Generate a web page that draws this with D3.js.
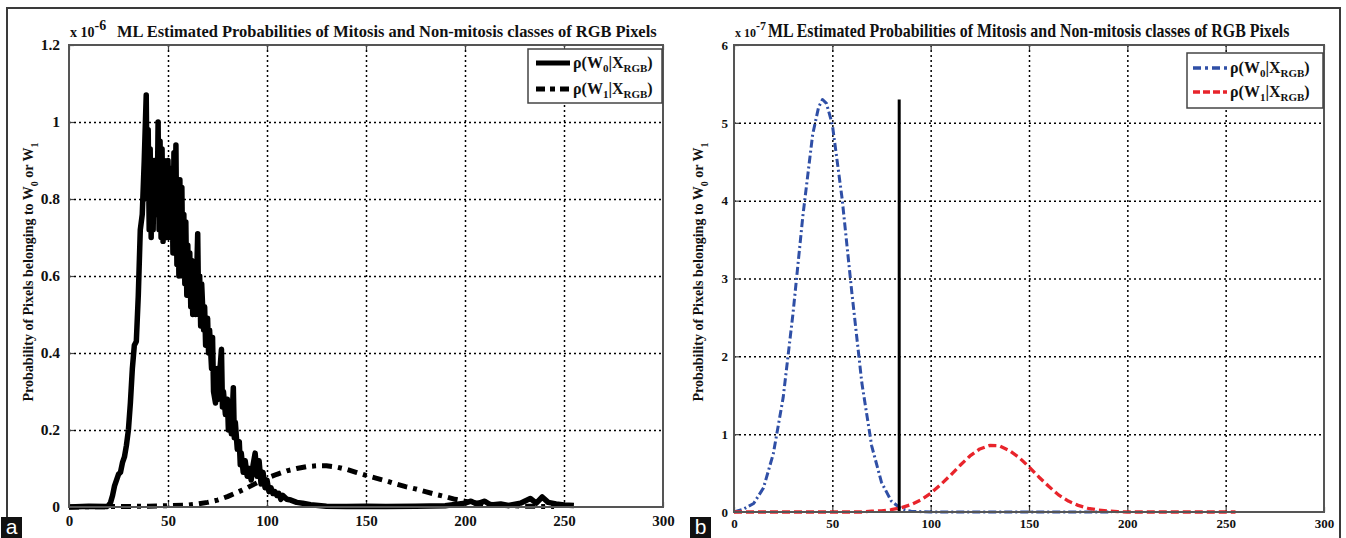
<!DOCTYPE html>
<html>
<head>
<meta charset="utf-8">
<script src="https://cdn.jsdelivr.net/npm/d3@7"></script>
<style>
  body { margin: 0; background: #fff; }
  svg { display: block; font-family: "Liberation Serif", "DejaVu Serif", serif; font-weight: bold; }
</style>
</head>
<body>
<svg class="chart"></svg>
<script>
const width = 1346;
const height = 538;

// data (probabilities, left in units of 1e-6, right in units of 1e-7)
const xTicks = [0, 50, 100, 150, 200, 250, 300];
const leftYTicks = [0, 0.2, 0.4, 0.6, 0.8, 1, 1.2];
const rightYTicks = [0, 1, 2, 3, 4, 5, 6];
const titleText = 'ML Estimated Probabilities of Mitosis and Non-mitosis classes of RGB Pixels';

// panel a, class W0 (noisy histogram estimate)
const leftW0 = [
  [0, 0], [10, 0.002], [19, 0.001], [20, 0.004], [21, 0.012], [22, 0.03], [23, 0.055], [24, 0.07],
  [25, 0.085], [26, 0.09], [27, 0.115], [28, 0.13], [29, 0.16], [30, 0.2], [31, 0.27], [32, 0.36],
  [33, 0.42], [34, 0.43], [35, 0.55], [36, 0.72], [37, 0.76], [38, 0.9], [39, 1.07], [39.5, 0.8],
  [40, 0.98], [40.5, 0.72], [41, 0.93], [41.5, 0.7], [42, 0.88], [42.5, 0.72], [43, 0.9], [43.5, 0.78],
  [44, 0.86], [44.5, 0.76], [45, 1.0], [45.5, 0.72], [46, 0.95], [46.5, 0.7], [47, 0.93], [47.5, 0.69],
  [48, 0.9], [48.5, 0.72], [49, 0.86], [49.5, 0.7], [50, 0.9], [50.5, 0.74], [51, 0.88], [51.5, 0.7],
  [52, 0.86], [52.5, 0.66], [53, 0.92], [53.5, 0.68], [54, 0.94], [54.5, 0.63], [55, 0.82], [55.5, 0.6],
  [56, 0.85], [56.5, 0.62], [57, 0.83], [57.5, 0.6], [58, 0.76], [58.5, 0.58], [59, 0.74], [59.5, 0.55],
  [60, 0.68], [60.5, 0.55], [61, 0.66], [61.5, 0.52], [62, 0.64], [62.5, 0.5], [63, 0.62], [64, 0.5],
  [65, 0.71], [65.5, 0.5], [66, 0.6], [66.5, 0.47], [67, 0.58], [68, 0.46], [68.5, 0.52], [69, 0.42],
  [70, 0.49], [70.5, 0.4], [71, 0.46], [72, 0.36], [72.5, 0.44], [73, 0.3], [74, 0.27], [75, 0.36],
  [75.5, 0.28], [76, 0.34], [77, 0.41], [77.5, 0.26], [78, 0.3], [79, 0.24], [80, 0.28], [80.5, 0.2],
  [81, 0.27], [82, 0.19], [83, 0.31], [83.5, 0.18], [84, 0.22], [85, 0.15], [86, 0.17], [86.5, 0.11],
  [87, 0.14], [88, 0.09], [89, 0.12], [90, 0.08], [91, 0.1], [92, 0.07], [93, 0.11], [94, 0.14],
  [95, 0.08], [96, 0.12], [97, 0.06], [98, 0.09], [99, 0.05], [100, 0.07], [101, 0.04], [102, 0.05],
  [103, 0.035], [104, 0.04], [105, 0.03], [106, 0.035], [107, 0.02], [108, 0.03], [110, 0.02],
  [112, 0.018], [115, 0.012], [118, 0.01], [122, 0.006], [126, 0.004], [130, 0.002], [140, 0.001],
  [150, 0.002], [160, 0.001], [175, 0.002], [190, 0.003], [200, 0.01], [203, 0.015], [206, 0.008],
  [210, 0.015], [213, 0.005], [218, 0.008], [222, 0.004], [228, 0.01], [233, 0.022], [236, 0.01],
  [239, 0.026], [242, 0.012], [246, 0.008], [250, 0.005], [255, 0.004]
];

// panel a, class W1
const leftW1 = [
  [0, 0], [20, 0.001], [40, 0.002], [60, 0.005], [65, 0.008], [70, 0.012], [75, 0.018], [80, 0.027],
  [85, 0.038], [90, 0.05], [95, 0.063], [100, 0.075], [105, 0.085], [110, 0.094], [115, 0.1],
  [120, 0.105], [125, 0.107], [130, 0.107], [135, 0.104], [140, 0.098], [145, 0.09], [150, 0.082],
  [155, 0.075], [160, 0.068], [165, 0.06], [170, 0.053], [175, 0.047], [180, 0.04], [185, 0.033],
  [190, 0.027], [195, 0.02], [200, 0.015], [205, 0.011], [210, 0.008], [215, 0.006], [220, 0.004],
  [230, 0.002], [245, 0.001]
];

// panel b, class W0 (blue)
const rightW0 = [
  [0, 0], [5, 0.04], [10, 0.11], [15, 0.31], [20, 0.75], [25, 1.47], [30, 2.55], [35, 3.8],
  [40, 4.85], [43, 5.2], [45, 5.3], [47, 5.25], [50, 4.98], [55, 4.02], [60, 2.8], [65, 1.66],
  [70, 0.85], [75, 0.38], [80, 0.14], [85, 0.04], [90, 0.01], [100, 0], [150, 0], [192, 0]
];

// panel b, class W1 (red)
const rightW1 = [
  [0, 0], [65, 0], [70, 0.01], [75, 0.015], [80, 0.03], [85, 0.055], [90, 0.095], [95, 0.155],
  [100, 0.24], [105, 0.35], [110, 0.47], [115, 0.6], [120, 0.72], [125, 0.81], [130, 0.855],
  [135, 0.85], [140, 0.79], [145, 0.7], [150, 0.58], [155, 0.45], [160, 0.33], [165, 0.22],
  [170, 0.14], [175, 0.085], [180, 0.048], [185, 0.026], [190, 0.013], [195, 0.006], [200, 0],
  [255, 0]
];

// decision threshold in panel b
const thresholdX = 84;
const thresholdTop = 5.3;

const svg = d3.select('.chart')
    .attr('width', width)
    .attr('height', height);

svg.append('rect')
    .attr('width', width)
    .attr('height', height)
    .attr('fill', '#fff');

// outer frame
svg.append('rect')
    .attr('x', 7)
    .attr('y', 8)
    .attr('width', 1333)
    .attr('height', 540)
    .attr('fill', 'none')
    .attr('stroke', '#3a3a3a')
    .attr('stroke-width', 2);

function drawPanel(p) {
    const g = svg.append('g');
    const x = d3.scaleLinear().domain([0, 300]).range([p.left, p.right]);
    const y = d3.scaleLinear().domain(p.yDomain).range([p.bottom, p.top]);

    // grid
    g.append('g')
        .attr('transform', `translate(0,${p.bottom})`)
        .call(d3.axisBottom(x).tickValues(xTicks.slice(1, -1)).tickSize(-(p.bottom - p.top)).tickFormat(''))
        .call(a => a.select('.domain').remove())
        .selectAll('line')
        .attr('stroke', '#000')
        .attr('stroke-width', 1.5)
        .attr('stroke-dasharray', '2,3');

    g.append('g')
        .attr('transform', `translate(${p.left},0)`)
        .call(d3.axisLeft(y).tickValues(p.yTicks.slice(1, -1)).tickSize(-(p.right - p.left)).tickFormat(''))
        .call(a => a.select('.domain').remove())
        .selectAll('line')
        .attr('stroke', '#000')
        .attr('stroke-width', 1.5)
        .attr('stroke-dasharray', '2,3');

    // x axis
    const xAxis = g.append('g')
        .attr('transform', `translate(0,${p.bottom})`)
        .call(d3.axisBottom(x).tickValues(xTicks).tickSizeInner(-5).tickSizeOuter(0).tickPadding(p.xPad));
    xAxis.select('.domain').remove();
    xAxis.selectAll('line').attr('stroke', '#444').attr('stroke-width', 1.2);
    xAxis.selectAll('text')
        .attr('font-family', 'Liberation Serif')
        .attr('font-weight', 'bold')
        .attr('font-size', p.tickSize)
        .attr('fill', '#111');

    // top ticks
    g.append('g')
        .attr('transform', `translate(0,${p.top})`)
        .call(d3.axisTop(x).tickValues(xTicks).tickSizeInner(-5).tickSizeOuter(0).tickFormat(''))
        .call(a => a.select('.domain').remove())
        .selectAll('line').attr('stroke', '#444').attr('stroke-width', 1.2);

    // y axis
    const yAxis = g.append('g')
        .attr('transform', `translate(${p.left},0)`)
        .call(d3.axisLeft(y).tickValues(p.yTicks).tickSizeInner(-5).tickSizeOuter(0).tickPadding(p.yPad)
            .tickFormat(d3.format('~g')));
    yAxis.select('.domain').remove();
    yAxis.selectAll('line').attr('stroke', '#444').attr('stroke-width', 1.2);
    yAxis.selectAll('text')
        .attr('font-family', 'Liberation Serif')
        .attr('font-weight', 'bold')
        .attr('font-size', p.yTickSize)
        .attr('fill', '#111');

    // curves
    p.series.forEach(s => {
        g.append('path')
            .datum(s.data)
            .attr('fill', 'none')
            .attr('stroke', s.color)
            .attr('stroke-width', s.width)
            .attr('stroke-dasharray', s.dash)
            .attr('stroke-linejoin', 'round')
            .attr('d', d3.line().x(d => x(d[0])).y(d => y(d[1])));
    });

    if (p.extra) p.extra(g, x, y);

    // axes box
    g.append('rect')
        .attr('x', p.left)
        .attr('y', p.top)
        .attr('width', p.right - p.left)
        .attr('height', p.bottom - p.top)
        .attr('fill', 'none')
        .attr('stroke', '#555')
        .attr('stroke-width', 2);

    // exponent
    const expo = g.append('text')
        .attr('x', p.left + 1)
        .attr('y', p.top - 8)
        .attr('font-size', p.expSize)
        .attr('fill', '#111');
    expo.append('tspan').text('x 10');
    expo.append('tspan').attr('dy', -7).attr('font-size', p.expSize).text(p.exponent);

    // title, squeezed horizontally like the condensed original
    const title = g.append('text')
        .attr('font-size', p.titleSize)
        .attr('fill', '#111')
        .text(titleText);
    const natural = title.node().getComputedTextLength();
    title.attr('transform', `translate(${p.titleX},${p.top - 8}) scale(${p.titleLen / natural},1)`);

    // y label
    const yl = g.append('text')
        .attr('transform', `translate(${p.ylabelX},272) rotate(-90)`)
        .attr('text-anchor', 'middle')
        .attr('font-size', 14)
        .attr('fill', '#111');
    yl.append('tspan').text('Probability of Pixels belonging to W');
    yl.append('tspan').attr('dy', 5).attr('font-size', 10).text('0');
    yl.append('tspan').attr('dy', -5).text(' or W');
    yl.append('tspan').attr('dy', 5).attr('font-size', 10).text('1');

    // legend
    const lg = g.append('g').attr('transform', `translate(${p.legend.x},${p.legend.y})`);
    lg.append('rect')
        .attr('width', p.legend.w)
        .attr('height', p.legend.h)
        .attr('fill', '#fff')
        .attr('stroke', '#444')
        .attr('stroke-width', 1.5);
    p.series.forEach((s, i) => {
        const ry = p.legend.rows[i];
        lg.append('line')
            .attr('x1', p.legend.lineX1)
            .attr('x2', p.legend.lineX2)
            .attr('y1', ry)
            .attr('y2', ry)
            .attr('stroke', s.color)
            .attr('stroke-width', s.legendWidth)
            .attr('stroke-dasharray', s.legendDash);
        const t = lg.append('text')
            .attr('x', p.legend.textX)
            .attr('y', ry + 5)
            .attr('font-size', p.legend.fontSize)
            .attr('fill', '#111');
        t.append('tspan').text('ρ(W');
        t.append('tspan').attr('dy', 4).attr('font-size', p.legend.fontSize - 5).text(s.sub);
        t.append('tspan').attr('dy', -4).text('|X');
        t.append('tspan').attr('dy', 4).attr('font-size', p.legend.fontSize - 5).text('RGB');
        t.append('tspan').attr('dy', -4).text(')');
    });
}

drawPanel({
    left: 69, right: 663, top: 45, bottom: 507,
    yDomain: [0, 1.2], yTicks: leftYTicks,
    xPad: 8, yPad: 9, tickSize: 15, yTickSize: 15.5,
    exponent: '-6', expSize: 14,
    titleX: 117, titleLen: 540, titleSize: 17,
    ylabelX: 33,
    series: [
        { data: leftW0, color: '#000', width: 5.5, dash: null, sub: '0', legendWidth: 5, legendDash: null },
        { data: leftW1, color: '#000', width: 5, dash: '10,6,4,6', sub: '1', legendWidth: 5, legendDash: '9,5,5,5' }
    ],
    legend: { x: 528, y: 49, w: 134, h: 54, rows: [14, 40], lineX1: 8, lineX2: 42, textX: 45, fontSize: 16 }
});

drawPanel({
    left: 734, right: 1324, top: 45, bottom: 512,
    yDomain: [0, 6], yTicks: rightYTicks,
    xPad: 7, yPad: 6, tickSize: 13, yTickSize: 13,
    exponent: '-7', expSize: 12,
    titleX: 768, titleLen: 522, titleSize: 18,
    ylabelX: 703,
    series: [
        { data: rightW0, color: '#2f4fa6', width: 3, dash: '8,3,2,3', sub: '0', legendWidth: 3.5, legendDash: '8,4,3,4' },
        { data: rightW1, color: '#e8242b', width: 3.3, dash: '8,4', sub: '1', legendWidth: 3.5, legendDash: '7,3' }
    ],
    extra: (g, x, y) => {
        g.append('line')
            .attr('x1', x(thresholdX))
            .attr('x2', x(thresholdX))
            .attr('y1', y(0))
            .attr('y2', y(thresholdTop))
            .attr('stroke', '#000')
            .attr('stroke-width', 3);
    },
    legend: { x: 1187, y: 53, w: 136, h: 55, rows: [15, 39], lineX1: 6, lineX2: 40, textX: 43, fontSize: 16 }
});

// panel letters
[['a', 1], ['b', 690]].forEach(([l, bx]) => {
    svg.append('rect')
        .attr('x', bx)
        .attr('y', 517)
        .attr('width', 21)
        .attr('height', 21)
        .attr('fill', '#111');
    svg.append('text')
        .attr('x', bx + 10.5)
        .attr('y', 534)
        .attr('text-anchor', 'middle')
        .attr('font-family', 'Liberation Sans')
        .attr('font-weight', 'normal')
        .attr('font-size', 21)
        .attr('fill', '#fff')
        .text(l);
});
</script>
</body>
</html>
